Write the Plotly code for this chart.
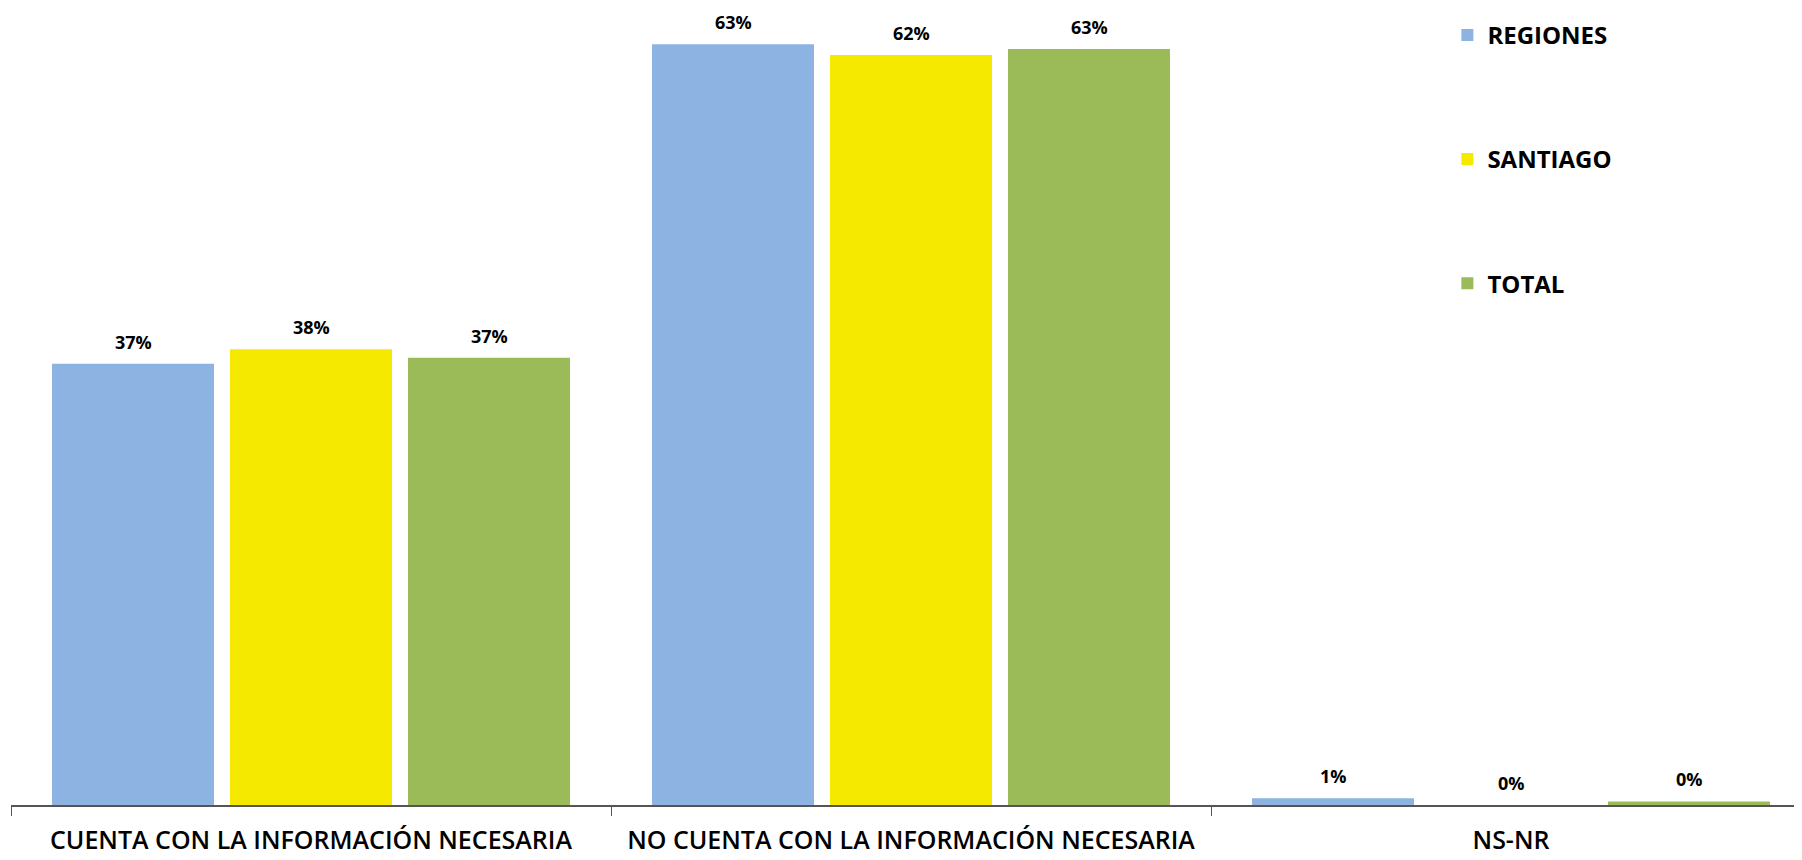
import plotly.graph_objects as go

categories = ["CUENTA CON LA INFORMACIÓN NECESARIA",
              "NO CUENTA CON LA INFORMACIÓN NECESARIA",
              "NS-NR"]
series_names = ["REGIONES", "SANTIAGO", "TOTAL"]
regiones = [36.6, 63.1, 0.55]
santiago = [37.8, 62.2, 0.0]
total = [37.1, 62.7, 0.3]
colors = ["#8DB3E2", "#F5E900", "#9BBB59"]

series_values = [regiones, santiago, total]

fig = go.Figure()
for name, vals, col in zip(series_names, series_values, colors):
    fig.add_trace(go.Bar(
        x=categories, y=vals, name=name, legendgroup=name,
        marker=dict(color=col, line=dict(width=0)),
    ))

# data labels above bars
slot_px = 178
annotations = []
for i, vals in enumerate(series_values):
    for cat, v in zip(categories, vals):
        annotations.append(dict(
            x=cat, y=v, xref="x", yref="y",
            text=f"{v:.0f}%", showarrow=False,
            xshift=(i - 1) * slot_px, yshift=8, yanchor="bottom",
            font=dict(family="Open Sans", size=18, color="#000000", weight="bold"),
        ))

fig.update_layout(
    width=1794, height=852,
    paper_bgcolor="white", plot_bgcolor="white",
    margin=dict(l=3, r=0, t=0, b=55),
    barmode="group", bargap=0.11, bargroupgap=0.09,
    annotations=annotations,
    showlegend=True,
    legend=dict(
        x=0.802, xanchor="left", y=0.994, yanchor="top",
        font=dict(family="Open Sans", size=24, color="#000000", weight="bold"),
        tracegroupgap=90, traceorder="grouped",
        bgcolor="rgba(0,0,0,0)",
    ),
    xaxis=dict(
        range=[-0.5, 2.485],
        showline=True, linecolor="#555555", linewidth=1.5,
        ticks="outside", tickson="boundaries", ticklen=9, tickcolor="#555555",
        ticklabelstandoff=12,
        tickfont=dict(family="Open Sans", size=25, color="#000000", weight=600),
        showgrid=False,
    ),
    yaxis=dict(
        range=[0, 66.1], visible=False, showgrid=False, zeroline=False,
    ),
)

fig.write_html("out.html")
